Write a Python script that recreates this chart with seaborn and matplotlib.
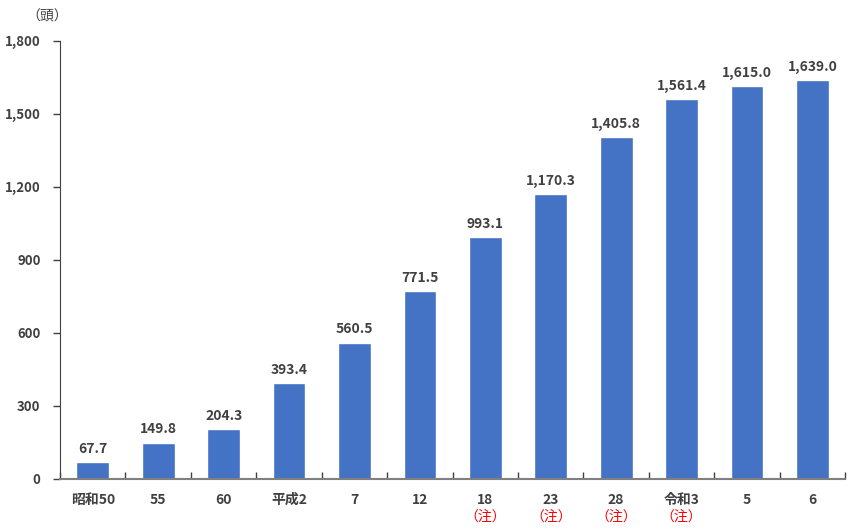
import numpy as np
import pandas as pd
import matplotlib
matplotlib.use('Agg')
import matplotlib.pyplot as plt
import matplotlib.transforms as mtransforms
import seaborn as sns

# データ
years = ['昭和50', '55', '60', '平成2', '7', '12', '18', '23', '28', '令和3', '5', '6']
heads = [67.7, 149.8, 204.3, 393.4, 560.5, 771.5, 993.1, 1170.3, 1405.8, 1561.4, 1615.0, 1639.0]
notes = ['', '', '', '', '', '', '（注）', '（注）', '（注）', '（注）', '', '']
yticks = [0, 300, 600, 900, 1200, 1500, 1800]

df = pd.DataFrame({'year': years, 'heads': heads})

sns.set_style('white')
plt.rcParams['font.family'] = ['Noto Sans CJK JP', 'DejaVu Sans']

fig = plt.figure(figsize=(8.58, 5.31), dpi=100)
ax = fig.add_axes([0.070, 0.098, 0.915, 0.825])

sns.barplot(x='year', y='heads', data=df, color='#4472C4', saturation=1,
            width=0.5, ax=ax)

ax.set_ylim(0, 1800)
ax.set_xlim(-0.5, len(years) - 0.5)
ax.set_yticks(yticks)
ax.set_yticklabels([f'{v:,}' for v in yticks], fontsize=9.5, color='#404040',
                   fontweight='bold')
ax.set_xlabel('')
ax.set_ylabel('')
ax.tick_params(axis='x', length=0, pad=10, labelsize=10, labelcolor='#404040')
for lbl in ax.get_xticklabels():
    lbl.set_fontweight('bold')
ax.tick_params(axis='y', length=5, width=1, color='#404040', direction='out',
               left=True, pad=9)

# 区切りの目盛り
ax.set_xticks(np.arange(-0.5, len(years) + 0.5, 1), minor=True)
ax.tick_params(axis='x', which='minor', direction='in', length=5, width=1,
               color='#404040', bottom=True)

for side in ['top', 'right']:
    ax.spines[side].set_visible(False)
ax.spines['left'].set_color('#404040')
ax.spines['bottom'].set_color('#808080')
ax.spines['bottom'].set_linewidth(1.5)

# 値ラベル
for i, v in enumerate(heads):
    ax.text(i, v + 25, f'{v:,.1f}', ha='center', va='bottom', fontsize=10,
            fontweight='bold', color='#404040')

# 注記
trans = mtransforms.blended_transform_factory(ax.transData, ax.transAxes)
for i, n in enumerate(notes):
    if n:
        ax.text(i, -0.07, n, transform=trans, ha='center', va='top',
                fontsize=10, color='#FF0000')

fig.text(0.055, 0.955, '（頭）', ha='center', va='bottom', fontsize=10,
         color='#404040')

fig.savefig('out.png', dpi=100)
